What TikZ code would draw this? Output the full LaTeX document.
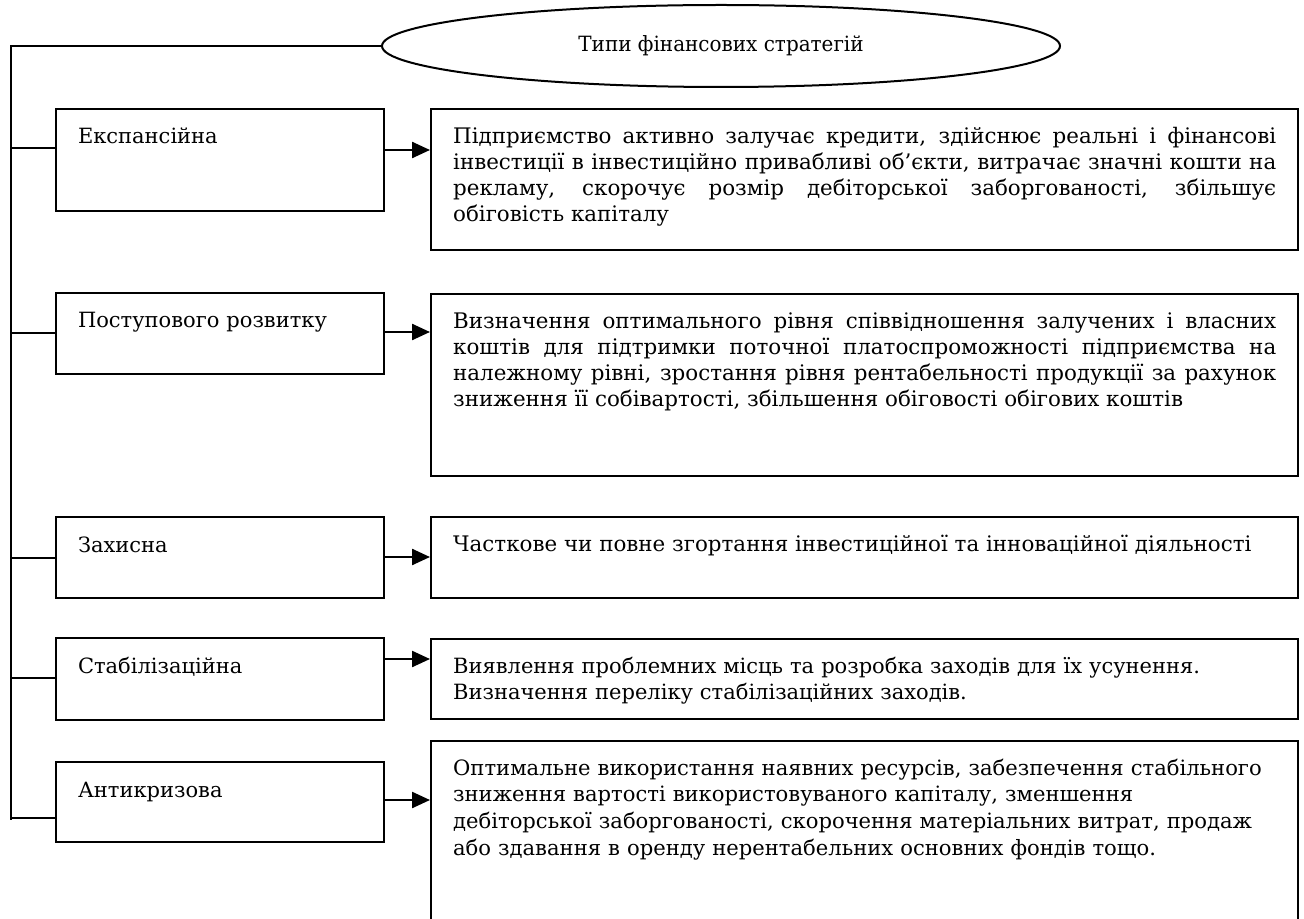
\documentclass[tikz,border=0pt]{standalone}
\usepackage{fontspec}
\setmainfont{DejaVu Serif}
\newfontfamily\narrowfont{DejaVu Serif}[FakeStretch=0.95]
\usepackage{tikz}
\usetikzlibrary{shapes.geometric}
\usetikzlibrary{arrows.meta}

\tikzset{
kind/.style={draw,line width=1pt,anchor=north west,inner xsep=11pt,inner ysep=0pt,
  text width=142pt,align=left,text height=17.5pt,font=\fontsize{10.5}{13.25}\selectfont},
descr/.style={draw,line width=1.15pt,anchor=north west,inner xsep=11pt,inner ysep=0pt,
  text width=411.5pt,align=justify,text height=17pt,font=\fontsize{10.7}{13}\selectfont},
}

\begin{document}
\begin{tikzpicture}[x=0.5pt,y=-0.5pt]
\useasboundingbox (0,0) rectangle (1304,919);
\clip (0,0) rectangle (1304,919);
\draw 
(721,46) node[draw,ellipse,line width=1pt,minimum width=339pt,minimum height=41pt,inner sep=0pt,
  font=\narrowfont\fontsize{10.5}{13}\selectfont](types){Типи фінансових стратегій}
(55,108) node[kind,text depth=33.5pt](e1){Експансійна}
(55,292) node[kind,text depth=23pt](e2){Поступового розвитку}
(55,516) node[kind,text depth=23pt](e3){Захисна}
(55,637) node[kind,text depth=23.5pt](e4){Стабілізаційна}
(55,761) node[kind,text depth=22.5pt](e5){Антикризова}
(430,108) node[descr,text depth=53.5pt](d1){Підприємство активно залучає кредити, здійснює реальні і фінансові\linebreak
  інвестиції в інвестиційно привабливі об'єкти, витрачає значні кошти на\linebreak
  рекламу, скорочує розмір дебіторської заборгованості, збільшує\linebreak
  обіговість капіталу}
(430,293) node[descr,text depth=74pt](d2){Визначення оптимального рівня співвідношення залучених і власних\linebreak
  коштів для підтримки поточної платоспроможності підприємства на\linebreak
  належному рівні, зростання рівня рентабельності продукції за рахунок\linebreak
  зниження її собівартості, збільшення обіговості обігових коштів}
(430,516) node[descr,text depth=23.5pt](d3){Часткове чи повне згортання інвестиційної та інноваційної діяльності}
(430,638) node[descr,align=left,text depth=23pt,font=\fontsize{10.5}{13}\selectfont](d4){Виявлення проблемних місць та розробка заходів для їх усунення.\\
  Визначення переліку стабілізаційних заходів.}
(430,740) node[descr,align=left,text depth=78pt,font=\fontsize{10.55}{13.4}\selectfont](d5){Оптимальне використання наявних ресурсів, забезпечення стабільного\\
  зниження вартості використовуваного капіталу, зменшення\\
  дебіторської заборгованості, скорочення матеріальних витрат, продаж\\
  або здавання в оренду нерентабельних основних фондів тощо.}
;
\coordinate (trunktop) at (11,46);
\coordinate (trunkbot) at (11,820);
%%% Trunk
\draw[line width=0.7pt] (types.west) -- (trunktop) -- (trunkbot);
%%% Branches from the trunk
\foreach \a/\y in {e1/148, e2/333, e3/558, e4/678, e5/818}{
\draw[line width=0.7pt] (trunktop |- 0,\y) -- (\a.west |- 0,\y);
}
%%% Arrows to the descriptions
\foreach \a/\b/\y in {e1/d1/150, e2/d2/332, e3/d3/557, e4/d4/659, e5/d5/800}{
\draw[line width=1.2pt,-{Triangle[length=9pt,width=8pt]}] (\a.east |- 0,\y) -- (\b.west |- 0,\y);
}
\end{tikzpicture}
\end{document}
